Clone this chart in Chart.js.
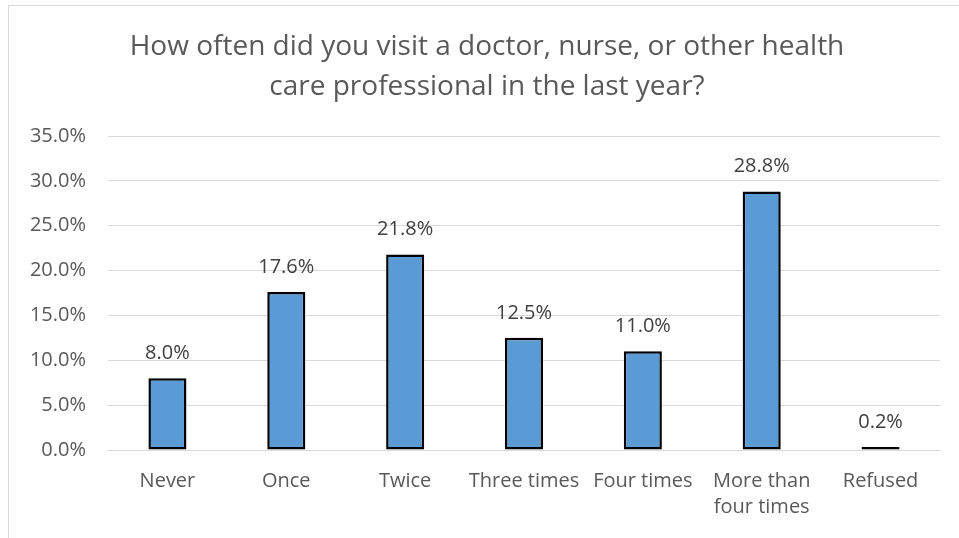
<!DOCTYPE html>
<html>
<head>
<meta charset="utf-8">
<script src="https://cdn.jsdelivr.net/npm/chart.js@4.4.1/dist/chart.umd.min.js"></script>
<style>
    html, body { margin: 0; padding: 0; background: #fff; }
    #wrap { position: relative; width: 959px; height: 538px; overflow: hidden; }
    #frame { position: absolute; left: 8px; top: 5px; width: 1000px; height: 600px;
             border-left: 1px solid #D9D9D9; border-top: 1px solid #D9D9D9; box-sizing: border-box; }
    canvas { position: absolute; left: 0; top: 0; }
</style>
</head>
<body>
<div id="wrap">
    <div id="frame"></div>
    <canvas id="chart" width="959" height="538"></canvas>
</div>
<script>
// Chart data
const titleLines = ['How often did you visit a doctor, nurse, or other health', 'care professional in the last year?'];
const categories = ['Never', 'Once', 'Twice', 'Three times', 'Four times', ['More than', 'four times'], 'Refused'];
const percentValues = [8.0, 17.6, 21.8, 12.5, 11.0, 28.8, 0.2];
const yTickMax = 35;
const yTickStep = 5;

const fontFamily = "'Open Sans', 'Noto Sans', sans-serif";

// Title drawn by hand: it is centred on the whole chart box, which runs past the right edge
const chartTitle = {
    id: 'chartTitle',
    afterDraw(chart) {
        const ctx = chart.ctx;
        ctx.save();
        ctx.font = '28px ' + fontFamily;
        ctx.fillStyle = '#595959';
        ctx.textAlign = 'center';
        ctx.textBaseline = 'middle';
        titleLines.forEach((line, i) => {
            ctx.fillText(line, 487, 47 + i * 40);
        });
        ctx.restore();
    }
};

// Draw value labels above each bar
const valueLabels = {
    id: 'valueLabels',
    afterDatasetsDraw(chart) {
        const ctx = chart.ctx;
        const meta = chart.getDatasetMeta(0);
        ctx.save();
        ctx.font = '20px ' + fontFamily;
        ctx.fillStyle = '#404040';
        ctx.textAlign = 'center';
        ctx.textBaseline = 'middle';
        meta.data.forEach((bar, i) => {
            ctx.fillText(percentValues[i].toFixed(1) + '%', bar.x, bar.y - 25);
        });
        ctx.restore();
    }
};

const ctx = document.getElementById('chart').getContext('2d');
new Chart(ctx, {
    type: 'bar',
    data: {
        labels: categories,
        datasets: [{
            data: percentValues,
            backgroundColor: '#5B9BD5',
            borderColor: '#000000',
            borderWidth: 2.5,
            borderSkipped: false,
            minBarLength: 3,
            categoryPercentage: 1,
            barPercentage: 0.32
        }]
    },
    options: {
        responsive: false,
        animation: false,
        layout: { padding: { left: 8, right: 19, top: 136, bottom: 0 } },
        plugins: {
            legend: { display: false },
            tooltip: { enabled: false },
            title: { display: false }
        },
        scales: {
            x: {
                grid: { display: false, drawTicks: false },
                border: { display: false },
                ticks: {
                    color: '#595959',
                    font: { family: fontFamily, size: 20, lineHeight: 1.3 },
                    padding: 18,
                    maxRotation: 0,
                    autoSkip: false
                },
                afterFit(scale) { scale.height = 88; }
            },
            y: {
                min: 0,
                max: yTickMax,
                grid: { color: '#D9D9D9', lineWidth: 1, drawTicks: false },
                border: { display: false },
                ticks: {
                    stepSize: yTickStep,
                    color: '#595959',
                    font: { family: fontFamily, size: 20 },
                    padding: 22,
                    callback: v => v.toFixed(1) + '%'
                },
                afterFit(scale) { scale.width = 100; }
            }
        }
    },
    plugins: [valueLabels, chartTitle]
});
</script>
</body>
</html>
